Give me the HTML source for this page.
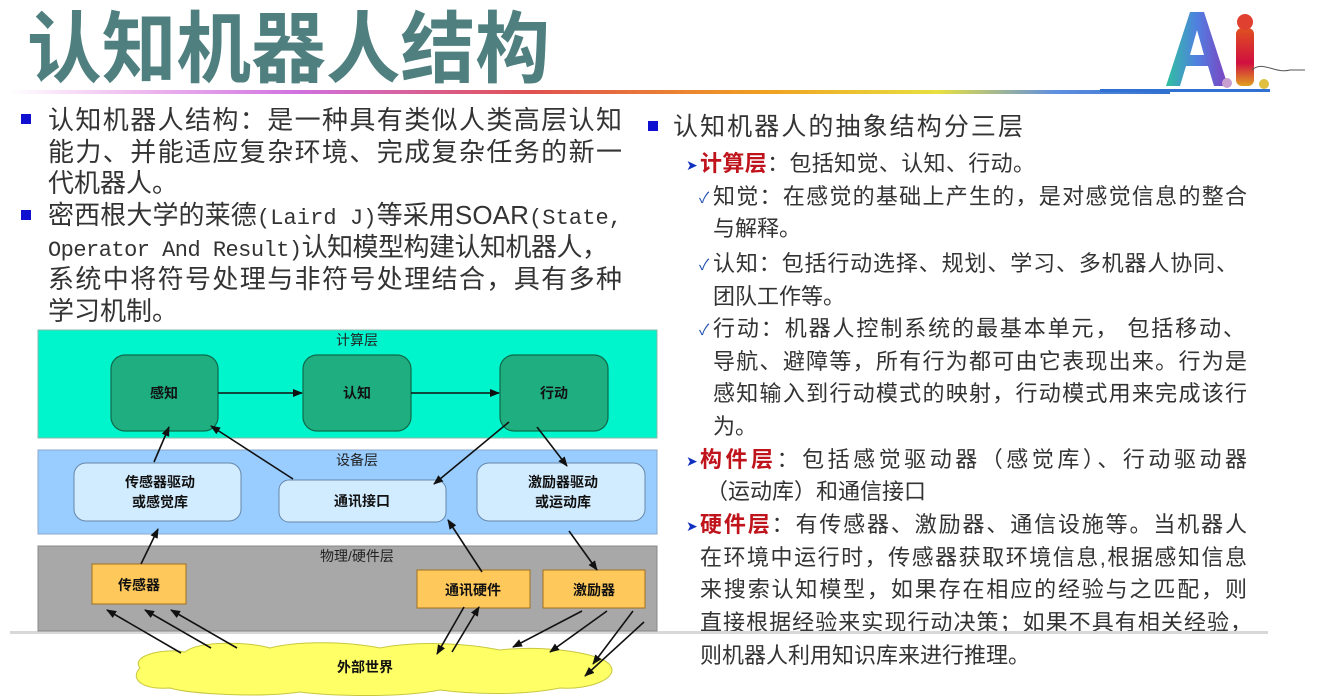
<!DOCTYPE html>
<html><head><meta charset="utf-8"><style>
html,body{margin:0;padding:0;background:#fff;width:1318px;height:700px;overflow:hidden}
svg{display:block}
text{font-family:"Liberation Sans","Noto Sans CJK SC",sans-serif}
.t{fill:#333;font-size:26px}
.r{fill:#333;font-size:22px}
.red{fill:#c0141c;font-size:22px;font-weight:bold}
.m{font-family:"Liberation Mono","Noto Sans CJK SC",monospace}
.dl{font-size:14px;font-weight:bold;fill:#111;text-anchor:middle}
.ll{font-size:14px;fill:#222;text-anchor:middle}
</style></head><body>
<svg width="1318" height="700" viewBox="0 0 1318 700" xmlns="http://www.w3.org/2000/svg">
<defs>
<linearGradient id="rb" x1="0" x2="1">
<stop offset="0" stop-color="#fff"/><stop offset="0.1" stop-color="#f0c0f0"/><stop offset="0.25" stop-color="#d070e0"/><stop offset="0.45" stop-color="#e05050"/><stop offset="0.65" stop-color="#f0a020"/><stop offset="0.8" stop-color="#e8e040"/><stop offset="0.9" stop-color="#6090e0"/><stop offset="1" stop-color="#3070d0"/>
</linearGradient>
<linearGradient id="ga" x1="0" x2="1"><stop offset="0" stop-color="#30c0a0"/><stop offset="0.5" stop-color="#5080e0"/><stop offset="1" stop-color="#8040c0"/></linearGradient>
<linearGradient id="gi" x1="0" x2="0" y1="0" y2="1"><stop offset="0" stop-color="#e05020"/><stop offset="0.6" stop-color="#d01040"/><stop offset="1" stop-color="#e0a020"/></linearGradient>
<marker id="ah" markerWidth="10" markerHeight="8" refX="9" refY="4" orient="auto" markerUnits="userSpaceOnUse"><path d="M0,0 L10,4 L0,8 z" fill="#111"/></marker>
</defs>

<!-- title -->
<text x="27" y="76" textLength="523" lengthAdjust="spacingAndGlyphs" style="font-size:78px;font-weight:bold;fill:#4f7f7f">认知机器人结构</text>
<rect x="10" y="90" width="1160" height="4" fill="url(#rb)"/>

<!-- AI logo -->
<path d="M1166,86 L1190,12 L1204,12 L1228,86 L1214,86 L1208,66 L1186,66 L1180,86 Z M1190,55 L1204,55 L1197,30 Z" fill="url(#ga)"/>
<circle cx="1227" cy="83" r="5" fill="#c8a0d0"/>
<rect x="1236" y="28" width="18" height="58" rx="6" fill="url(#gi)"/>
<circle cx="1245" cy="22" r="8" fill="#e04030"/>
<circle cx="1264" cy="84" r="5" fill="#e0c040"/>
<path d="M1252,70 C1262,60 1275,74 1290,70 L1305,70" stroke="#555" fill="none" stroke-width="1"/>
<rect x="1100" y="89" width="170" height="3" fill="#3070d0"/>

<!-- left bullets -->
<rect x="21" y="114" width="10" height="10" fill="#1010d0"/>
<text class="t" x="48" y="129" textLength="574">认知机器人结构：是一种具有类似人类高层认知</text>
<text class="t" x="48" y="161" textLength="574">能力、并能适应复杂环境、完成复杂任务的新一</text>
<text class="t" x="48" y="192">代机器人。</text>
<rect x="21" y="210" width="10" height="10" fill="#1010d0"/>
<text class="t" x="48" y="224" textLength="574">密西根大学的莱德<tspan class="m" style="font-size:22px">(Laird J)</tspan>等采用SOAR<tspan class="m" style="font-size:22px">(State,</tspan></text>
<text class="t" x="48" y="256" textLength="560"><tspan class="m" style="font-size:22px">Operator And Result)</tspan>认知模型构建认知机器人，</text>
<text class="t" x="48" y="288" textLength="574">系统中将符号处理与非符号处理结合，具有多种</text>
<text class="t" x="48" y="320">学习机制。</text>

<!-- right -->
<rect x="648" y="121" width="10" height="10" fill="#1010d0"/>
<text x="673" y="135" textLength="350" style="font-size:25px;fill:#333">认知机器人的抽象结构分三层</text>
<g>
<text class="r" x="686" y="170" style="font-size:14px;fill:#1030c0">➤</text>
<text x="700" y="171" textLength="335"><tspan class="red">计算层</tspan><tspan class="r">：包括知觉、认知、行动。</tspan></text>
<text class="r" x="699" y="203" style="font-size:15px;fill:#2050b0">✓</text>
<text class="r" x="713" y="204" textLength="534">知觉：在感觉的基础上产生的，是对感觉信息的整合</text>
<text class="r" x="713" y="236">与解释。</text>
<text class="r" x="699" y="270" style="font-size:15px;fill:#2050b0">✓</text>
<text class="r" x="713" y="271" textLength="525">认知：包括行动选择、规划、学习、多机器人协同、</text>
<text class="r" x="713" y="304">团队工作等。</text>
<text class="r" x="699" y="335" style="font-size:15px;fill:#2050b0">✓</text>
<text class="r" x="713" y="336" textLength="532">行动：机器人控制系统的最基本单元，  包括移动、</text>
<text class="r" x="713" y="369" textLength="534">导航、避障等，所有行为都可由它表现出来。行为是</text>
<text class="r" x="713" y="401" textLength="534">感知输入到行动模式的映射，行动模式用来完成该行</text>
<text class="r" x="713" y="434">为。</text>
<text class="r" x="686" y="466" style="font-size:14px;fill:#1030c0">➤</text>
<text x="700" y="467" textLength="547"><tspan class="red">构件层</tspan><tspan class="r">：包括感觉驱动器（感觉库）、行动驱动器</tspan></text>
<text class="r" x="706" y="499">（运动库）和通信接口</text>
<text class="r" x="686" y="531" style="font-size:14px;fill:#1030c0">➤</text>
<text x="700" y="532" textLength="547"><tspan class="red">硬件层</tspan><tspan class="r">：有传感器、激励器、通信设施等。当机器人</tspan></text>
<text class="r" x="700" y="565" textLength="547">在环境中运行时，传感器获取环境信息,根据感知信息</text>
<text class="r" x="700" y="597" textLength="547">来搜索认知模型，如果存在相应的经验与之匹配，则</text>
<text class="r" x="700" y="630" textLength="552">直接根据经验来实现行动决策；如果不具有相关经验，</text>
<text class="r" x="700" y="663">则机器人利用知识库来进行推理。</text>
</g>
<rect x="10" y="631" width="1258" height="3" fill="#d8d8d8"/>

<!-- diagram layers -->
<rect x="38" y="330" width="619" height="108" fill="#00f5cc" stroke="#88bbaa"/>
<text class="ll" x="357" y="345">计算层</text>
<rect x="38" y="450" width="619" height="84" fill="#99ccff" stroke="#88aacc"/>
<text class="ll" x="357" y="465">设备层</text>
<rect x="38" y="546" width="619" height="85" fill="#a8a8a8" stroke="#888"/>
<text class="ll" x="357" y="561">物理/硬件层</text>

<g stroke="#0f6a4a" stroke-width="1.2" fill="#1eae80">
<rect x="111" y="355" width="107" height="76" rx="14"/>
<rect x="303" y="355" width="108" height="76" rx="14"/>
<rect x="500" y="355" width="108" height="76" rx="14"/>
</g>
<text class="dl" x="164" y="398">感知</text>
<text class="dl" x="357" y="398">认知</text>
<text class="dl" x="554" y="398">行动</text>

<g stroke="#6688aa" stroke-width="1" fill="#d2ecff">
<rect x="74" y="463" width="167" height="58" rx="12"/>
<rect x="279" y="480" width="167" height="42" rx="10"/>
<rect x="477" y="463" width="168" height="58" rx="12"/>
</g>
<text class="dl" x="160" y="487">传感器驱动</text>
<text class="dl" x="160" y="507">或感觉库</text>
<text class="dl" x="362" y="506">通讯接口</text>
<text class="dl" x="563" y="487">激励器驱动</text>
<text class="dl" x="563" y="507">或运动库</text>

<g stroke="#a07020" stroke-width="1" fill="#ffc85a">
<rect x="92" y="564" width="94" height="40"/>
<rect x="417" y="570" width="113" height="38"/>
<rect x="543" y="570" width="102" height="38"/>
</g>
<text class="dl" x="139" y="590">传感器</text>
<text class="dl" x="473" y="595">通讯硬件</text>
<text class="dl" x="594" y="595">激励器</text>

<!-- cloud -->
<g fill="#ffff66" stroke="#c8c840" stroke-width="1">
<path d="M140,668 C130,655 165,648 185,652 C200,640 250,642 270,648 C300,640 350,642 380,648 C420,640 470,644 500,650 C540,645 600,652 610,665 C620,678 590,690 560,688 C520,696 470,694 440,690 C400,698 330,696 300,692 C260,698 190,694 170,688 C140,690 130,678 140,668 Z"/>
</g>
<text class="dl" x="365" y="672">外部世界</text>

<!-- arrows -->
<g stroke="#111" stroke-width="1.6" fill="none" marker-end="url(#ah)">
<line x1="218" y1="393" x2="302" y2="393"/>
<line x1="411" y1="393" x2="499" y2="393"/>
<line x1="154" y1="462" x2="169" y2="427"/>
<line x1="293" y1="479" x2="211" y2="426"/>
<line x1="509" y1="422" x2="434" y2="484"/>
<line x1="537" y1="427" x2="567" y2="466"/>
<line x1="141" y1="564" x2="158" y2="529"/>
<line x1="482" y1="572" x2="448" y2="520"/>
<line x1="569" y1="531" x2="597" y2="570"/>
<line x1="181" y1="653" x2="107" y2="610"/>
<line x1="211" y1="648" x2="145" y2="610"/>
<line x1="237" y1="648" x2="171" y2="610"/>
<line x1="464" y1="607" x2="437" y2="654"/>
<line x1="452" y1="652" x2="479" y2="607"/>
<line x1="582" y1="611" x2="513" y2="647"/>
<line x1="607" y1="611" x2="550" y2="652"/>
<line x1="633" y1="611" x2="593" y2="664"/>
<line x1="644" y1="622" x2="585" y2="676"/>
</g>
</svg>
</body></html>
